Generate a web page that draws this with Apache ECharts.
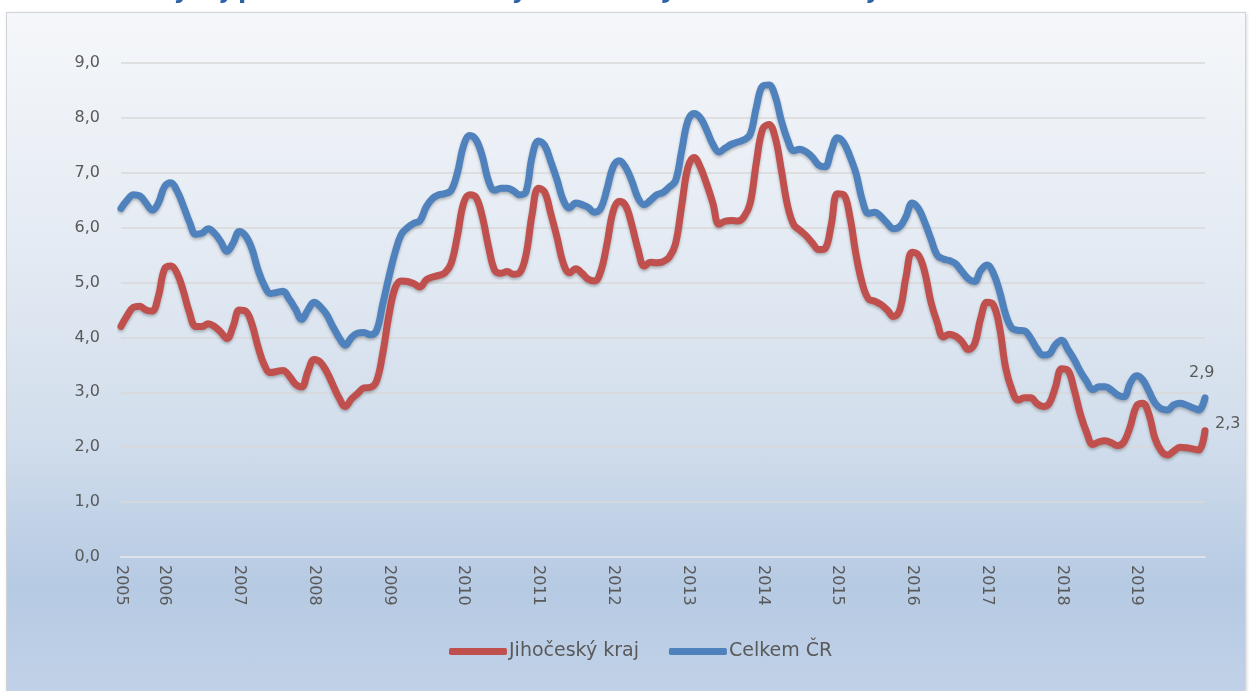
<!DOCTYPE html>
<html>
<head>
<meta charset="utf-8">
<script src="https://cdn.jsdelivr.net/npm/echarts@6/dist/echarts.min.js"></script>
<style>
  html, body { margin: 0; padding: 0; background: #ffffff; overflow: hidden; }
  #frame {
    position: absolute; left: 6px; top: 12px; width: 1238px; height: 700px;
    border: 1px solid #d0d3d8;
    box-shadow: 1px 1px 3px rgba(0,0,0,0.15);
    background: linear-gradient(to bottom, #f5f7fa 0%, #e6ecf4 30%, #d2deec 60%, #b6cae3 82%, #c3d3e8 100%);
  }
  #chart { position: absolute; left: 0; top: 0; width: 1249px; height: 691px; }
</style>
</head>
<body>
<div id="frame"></div>
<div id="chart"></div>
<script>
// months from June 2005 to December 2019
const startYear = 2005
const startMonth = 6
const endYear = 2019

// Celkem ČR, one row per year (2005 starts in June)
const celkemCR = [
  6.35, 6.5, 6.6, 6.58, 6.45, 6.32, 6.45,
  6.75, 6.82, 6.67, 6.4, 6.1, 5.88, 5.9, 5.98, 5.9, 5.75, 5.57, 5.72,
  5.93, 5.85, 5.62, 5.23, 4.95, 4.8, 4.82, 4.84, 4.7, 4.52, 4.33, 4.5,
  4.64, 4.56, 4.42, 4.2, 4.0, 3.86, 4.0, 4.08, 4.09, 4.05, 4.12, 4.6,
  5.1, 5.55, 5.88, 6.0, 6.08, 6.13, 6.38, 6.53, 6.6, 6.62, 6.68, 7.0,
  7.5, 7.68, 7.6, 7.3, 6.85, 6.68, 6.72, 6.72, 6.67, 6.6, 6.65, 7.3,
  7.58, 7.5, 7.2, 6.87, 6.5, 6.36, 6.45, 6.42, 6.37, 6.28, 6.35, 6.7,
  7.11, 7.22, 7.1, 6.85, 6.54, 6.42, 6.5, 6.6, 6.64, 6.74, 6.85, 7.4,
  7.95, 8.08, 8.0, 7.78, 7.52, 7.38, 7.45, 7.52, 7.56, 7.6, 7.7, 8.2,
  8.58, 8.6, 8.4, 7.95, 7.6, 7.4, 7.43, 7.38, 7.28, 7.14, 7.11, 7.4,
  7.64, 7.55, 7.3, 6.98, 6.5, 6.26, 6.28, 6.2, 6.08, 5.98, 6.02, 6.2,
  6.45, 6.35, 6.1, 5.8, 5.5, 5.43, 5.4, 5.34, 5.2, 5.07, 5.02, 5.22,
  5.32, 5.18, 4.85, 4.42, 4.17, 4.13, 4.12, 3.99, 3.8, 3.68, 3.7, 3.87,
  3.95, 3.78, 3.6, 3.38, 3.2, 3.05, 3.1, 3.1, 3.04, 2.95, 2.92, 3.17,
  3.3, 3.23, 3.02, 2.8, 2.7, 2.68, 2.77, 2.8, 2.77, 2.72, 2.68, 2.9
]

// Jihočeský kraj
const jihocesky = [
  4.2, 4.4, 4.55, 4.57, 4.5, 4.48, 4.75,
  5.25, 5.3, 5.17, 4.85, 4.45, 4.2, 4.2, 4.25, 4.2, 4.1, 3.98, 4.2,
  4.5, 4.48, 4.25, 3.83, 3.5, 3.36, 3.38, 3.4, 3.3, 3.15, 3.1, 3.38,
  3.6, 3.55, 3.38, 3.14, 2.9, 2.74, 2.88, 2.98, 3.08, 3.09, 3.2, 3.7,
  4.4, 4.9, 5.03, 5.02, 4.98, 4.92, 5.05, 5.1, 5.13, 5.18, 5.35, 5.85,
  6.45, 6.6, 6.55, 6.2, 5.65, 5.22, 5.17, 5.2, 5.15, 5.18, 5.5, 6.25,
  6.72, 6.65, 6.25, 5.82, 5.35, 5.18, 5.25, 5.17, 5.06, 5.03, 5.2, 5.7,
  6.3, 6.48, 6.4, 6.05, 5.6, 5.3, 5.37, 5.36, 5.38, 5.46, 5.7, 6.4,
  7.1, 7.28, 7.1, 6.8, 6.45, 6.06, 6.12, 6.13, 6.12, 6.2, 6.45, 7.2,
  7.8, 7.88, 7.65, 7.05, 6.4, 6.05, 5.95, 5.85, 5.72, 5.6, 5.62, 6.05,
  6.62, 6.6, 6.2, 5.5, 4.98, 4.7, 4.66, 4.6, 4.5, 4.38, 4.5, 5.1,
  5.55, 5.5, 5.2, 4.65, 4.28, 4.01, 4.06, 4.02, 3.92, 3.78, 3.88, 4.35,
  4.64, 4.6, 4.2, 3.45, 3.05, 2.86, 2.9, 2.9, 2.8, 2.74, 2.8, 3.1,
  3.43, 3.4, 3.05, 2.6, 2.27, 2.05, 2.1, 2.12, 2.08, 2.03, 2.1, 2.38,
  2.75, 2.8, 2.6, 2.15, 1.93, 1.86, 1.93, 2.0, 1.99, 1.97, 1.95, 2.3
]

const endValues = { red: '2,3', blue: '2,9' }

let months = []
for (let y = startYear; y <= endYear; y++) {
  for (let m = (y === startYear ? startMonth : 1); m <= 12; m++) {
    months.push(y + '-' + String(m).padStart(2, '0'))
  }
}

const textColor = '#595959'
const font = '"DejaVu Sans", "Open Sans", sans-serif'
const myChart = echarts.init(document.getElementById('chart'), null, { renderer: 'canvas' })

let option = {
  animation: false,
  backgroundColor: 'transparent',
  title: {
    text: 'Vývoj podílu nezaměstnaných osob v Jihočeském kraji a v ČR',
    left: 150,
    top: -25,
    textStyle: { color: '#2e62a6', fontSize: 24, fontWeight: 'bold', fontFamily: font }
  },
  grid: { left: 121, right: 44, top: 63, bottom: 134 },
  legend: {
    left: 444,
    top: 637,
    icon: 'roundRect',
    itemWidth: 58,
    itemHeight: 7,
    itemGap: 30,
    textStyle: { color: textColor, fontSize: 19, fontFamily: font, padding: [0, 0, 0, -3] },
    data: ['Jihočeský kraj', 'Celkem ČR']
  },
  xAxis: {
    type: 'category',
    boundaryGap: false,
    data: months,
    axisLine: { lineStyle: { color: '#dfe3e9', width: 2 } },
    axisTick: { show: false },
    axisLabel: {
      rotate: -90,
      margin: 8,
      color: textColor,
      fontSize: 16,
      fontFamily: font,
      interval: (idx) => idx === 0 || (idx - 7) % 12 === 0,
      formatter: (v) => v.slice(0, 4)
    },
    splitLine: { show: false }
  },
  yAxis: {
    type: 'value',
    min: 0,
    max: 9,
    interval: 1,
    axisLine: { show: false },
    axisTick: { show: false },
    axisLabel: {
      margin: 21,
      color: textColor,
      fontSize: 16,
      fontFamily: font,
      formatter: (v) => v.toFixed(1).replace('.', ',')
    },
    splitLine: { lineStyle: { color: '#d9d9d9', width: 1.5 } }
  },
  series: [
    {
      name: 'Jihočeský kraj',
      type: 'line',
      data: jihocesky,
      smooth: 0.4,
      symbol: 'none',
      color: '#c0504d',
      lineStyle: { width: 7, color: '#c0504d', cap: 'round', join: 'round',
        shadowColor: 'rgba(0,0,0,0.25)', shadowBlur: 3, shadowOffsetY: 2 },
      endLabel: { show: true, formatter: () => endValues.red, color: textColor,
        fontSize: 16, fontFamily: font, offset: [2, -7] }
    },
    {
      name: 'Celkem ČR',
      type: 'line',
      data: celkemCR,
      smooth: 0.4,
      symbol: 'none',
      color: '#4f81bd',
      lineStyle: { width: 7, color: '#4f81bd', cap: 'round', join: 'round',
        shadowColor: 'rgba(0,0,0,0.25)', shadowBlur: 3, shadowOffsetY: 2 },
      endLabel: { show: true, formatter: () => endValues.blue, color: textColor,
        fontSize: 16, fontFamily: font, offset: [-24, -25] }
    }
  ]
}
option && myChart.setOption(option)
</script>
</body>
</html>
